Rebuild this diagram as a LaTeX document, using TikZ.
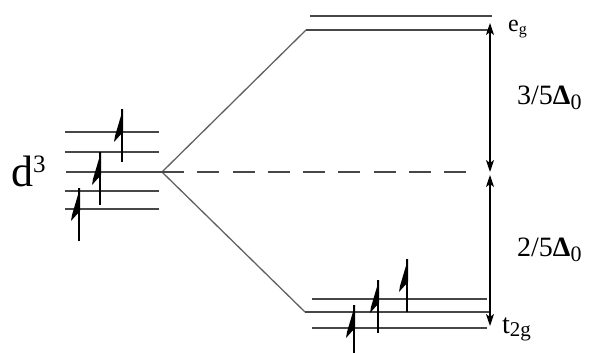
\documentclass[tikz,border=0pt]{standalone}
\usepackage{fontspec}
\setmainfont{Liberation Serif}
\usetikzlibrary{arrows.meta}
\tikzset{
  orbital/.style={draw=black!72, line width=1.9pt},
  splitline/.style={draw=black!62, line width=1.3pt},
  baryline/.style={draw=black!72, line width=2pt, dash pattern=on 22pt off 13.25pt},
  gaparrow/.style={draw=black, line width=1.3pt,
    {Stealth[length=12pt,width=8pt,inset=3pt]}-{Stealth[length=12pt,width=8pt,inset=3pt]}},
  lbl/.style={inner sep=0pt, anchor=base west},
  % electron with spin up: stem plus a one-sided blade head
  spinup/.pic={
    \draw[line width=1.3pt] (0,0) -- (0,-53);
    \fill (1,-53) -- (1,-30) -- (-8,-20) -- (-7,-26) -- cycle;
  }
}
\begin{document}
\begin{tikzpicture}[x=1pt,y=-1pt]
\useasboundingbox (0,0) rectangle (595,353);
\clip (0,0) rectangle (595,353);

% five degenerate d orbitals of the free ion
\foreach \n/\y in {1/132,2/152,4/191,5/209}{
  \coordinate (dL\n) at (65,\y);
  \coordinate (dR\n) at (159,\y);
  \draw[orbital] (dL\n) -- (dR\n);
}
\coordinate (dL3) at (66,172);
\coordinate (split) at (162,172);
\draw[orbital] (dL3) -- (split);

% e_g pair
\coordinate (egA1) at (310,16);  \coordinate (egA2) at (492,16);
\coordinate (egB1) at (306,30);  \coordinate (egB2) at (492,30);
\draw[orbital] (egA1) -- (egA2);
\draw[orbital] (egB1) -- (egB2);

% t_2g triplet
\coordinate (tA1) at (312,299);  \coordinate (tA2) at (487,299);
\coordinate (tB1) at (305,312);  \coordinate (tB2) at (489,312);
\coordinate (tC1) at (312,328);  \coordinate (tC2) at (487,328);
\draw[orbital] (tA1) -- (tA2);
\draw[orbital] (tB1) -- (tB2);
\draw[orbital] (tC1) -- (tC2);

% splitting lines and barycentre
\draw[splitline] (split) -- (egB1);
\draw[splitline] (split) -- (tB1);
\coordinate (baryEnd) at (466,172);
\draw[baryline] (split) -- (baryEnd);

% energy gaps
\coordinate (gTop)  at (490,23);
\coordinate (gMid1) at (490,172);
\coordinate (gMid2) at (490,175);
\coordinate (gBot)  at (490,326);
\draw[gaparrow] (gTop) -- (gMid1);
\draw[gaparrow] (gMid2) -- (gBot);

% three unpaired electrons
\pic at (122,162) {spinup};
\pic at (100,205) {spinup};
\pic at (79,241)  {spinup};
\pic at (354,358) {spinup};
\pic at (378,333) {spinup};
\pic at (407,312) {spinup};

% labels
\node[lbl] (d3) at (11,186)
  {\fontsize{44}{44}\selectfont d\raisebox{14pt}{\fontsize{25}{25}\selectfont 3}};
\node[lbl] (eg) at (508,32)
  {\fontsize{24}{24}\selectfont e\raisebox{-3pt}{\fontsize{16}{16}\selectfont g}};
\node[lbl] (t2g) at (502,333)
  {\fontsize{28}{28}\selectfont t\raisebox{-3pt}{\fontsize{21}{21}\selectfont 2g}};
\node[lbl] (upper) at (517,105)
  {\fontsize{28}{28}\selectfont 3/5\textbf{Δ}\raisebox{-5pt}{\fontsize{22}{22}\selectfont 0}};
\node[lbl] (lower) at (517,256)
  {\fontsize{28}{28}\selectfont 2/5\textbf{Δ}\raisebox{-5pt}{\fontsize{22}{22}\selectfont 0}};
\end{tikzpicture}
\end{document}
